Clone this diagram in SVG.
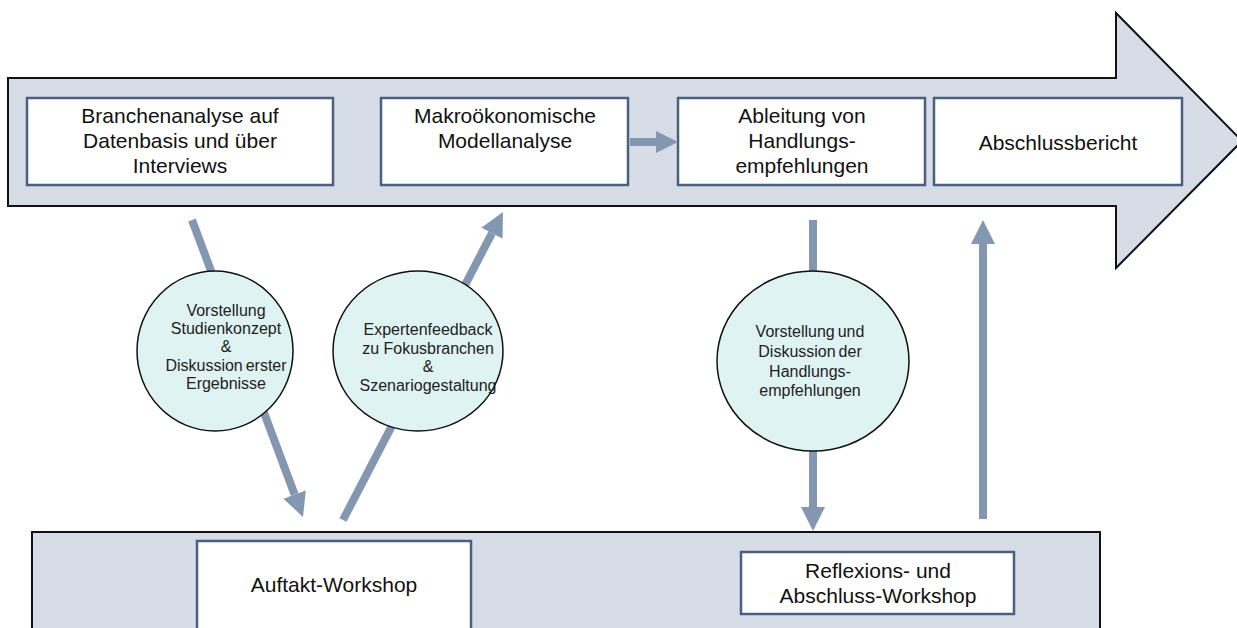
<svg xmlns="http://www.w3.org/2000/svg" width="1237" height="628" viewBox="0 0 1237 628">
<style>
.band{fill:#d6dde7;stroke:#111;stroke-width:2}
.box{fill:#fff;stroke:#4b6080;stroke-width:2.5}
.circ{fill:#dff3f3;stroke:#111;stroke-width:1.5}
.t{font-family:"Liberation Sans",Arial,sans-serif;font-size:21px;fill:#111;text-anchor:middle}
.c{font-family:"Liberation Sans",Arial,sans-serif;font-size:16px;fill:#222;text-anchor:middle}
.con{stroke:#8497b0;stroke-width:8;fill:none}
</style>
<defs>
<marker id="ah" markerUnits="userSpaceOnUse" viewBox="0 0 24 24" markerWidth="24" markerHeight="24" refX="0" refY="12" orient="auto">
<path d="M0,0 L24,12 L0,24 z" fill="#8497b0"/>
</marker>
<marker id="ahs" markerUnits="userSpaceOnUse" viewBox="0 0 22 22" markerWidth="22" markerHeight="22" refX="0" refY="11" orient="auto">
<path d="M0,0 L22,11 L0,22 z" fill="#8497b0"/>
</marker>
</defs>
<rect width="1237" height="628" fill="#fff"/>
<g id="process-arrow">
<polygon class="band" points="8,78 1116,78 1116,13 1242,141 1116,268 1116,206 8,206"/>
</g>
<g id="workshop-band">
<rect class="band" x="32" y="532" width="1068" height="110" stroke-width="1.5"/>
</g>
<g id="branchenanalyse">
<rect class="box" x="27" y="98" width="306" height="87"/>
<text class="t" x="180" y="123">Branchenanalyse auf</text>
<text class="t" x="180" y="148">Datenbasis und über</text>
<text class="t" x="180" y="173">Interviews</text>
</g>
<g id="modellanalyse">
<rect class="box" x="381" y="98" width="247" height="87"/>
<text class="t" x="505" y="123">Makroökonomische</text>
<text class="t" x="505" y="148">Modellanalyse</text>
</g>
<g id="handlungsempfehlungen">
<rect class="box" x="678" y="98" width="247" height="87"/>
<text class="t" x="802" y="123">Ableitung von</text>
<text class="t" x="802" y="148">Handlungs-</text>
<text class="t" x="802" y="173">empfehlungen</text>
</g>
<g id="abschlussbericht">
<rect class="box" x="934" y="98" width="248" height="87"/>
<text class="t" x="1058" y="150">Abschlussbericht</text>
</g>
<g id="auftakt-workshop">
<rect class="box" x="197" y="541" width="274" height="100"/>
<text class="t" x="334" y="592">Auftakt-Workshop</text>
</g>
<g id="abschluss-workshop">
<rect class="box" x="741" y="552" width="273" height="62"/>
<text class="t" x="878" y="578">Reflexions- und</text>
<text class="t" x="878" y="603">Abschluss-Workshop</text>
</g>
<g id="connectors">
<line class="con" x1="630" y1="142" x2="656" y2="142" marker-end="url(#ahs)"/>
<line class="con" x1="192" y1="220" x2="294.6" y2="494.5" marker-end="url(#ah)"/>
<line class="con" x1="343" y1="520" x2="491.9" y2="233.3" marker-end="url(#ah)"/>
<line class="con" x1="813" y1="220" x2="813" y2="507" marker-end="url(#ah)"/>
<line class="con" x1="983" y1="519" x2="983" y2="244" marker-end="url(#ah)"/>
</g>
<g id="vorstellung-studienkonzept">
<ellipse class="circ" cx="215" cy="351" rx="78" ry="80"/>
<text class="c" x="226" y="316">Vorstellung</text>
<text class="c" x="226" y="334">Studienkonzept</text>
<text class="c" x="226" y="352">&amp;</text>
<text class="c" x="226" y="371" word-spacing="-1.5">Diskussion erster</text>
<text class="c" x="226" y="389">Ergebnisse</text>
</g>
<g id="expertenfeedback">
<ellipse class="circ" cx="418" cy="351" rx="85" ry="80"/>
<text class="c" x="428" y="335">Expertenfeedback</text>
<text class="c" x="428" y="354">zu Fokusbranchen</text>
<text class="c" x="428" y="372">&amp;</text>
<text class="c" x="428" y="391">Szenariogestaltung</text>
</g>
<g id="vorstellung-handlungsempfehlungen">
<ellipse class="circ" cx="813" cy="361" rx="96" ry="90"/>
<text class="c" x="810" y="337" word-spacing="-1.5">Vorstellung und</text>
<text class="c" x="810" y="357" word-spacing="-1.5">Diskussion der</text>
<text class="c" x="810" y="377">Handlungs-</text>
<text class="c" x="810" y="396">empfehlungen</text>
</g>
</svg>
